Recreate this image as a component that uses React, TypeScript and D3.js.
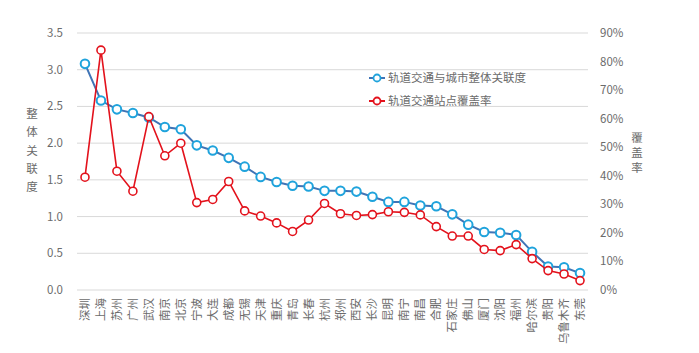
import React, { useEffect, useRef } from 'react';
import * as d3 from 'd3';

const cities = ['深圳', '上海', '苏州', '广州', '武汉', '南京', '北京', '宁波', '大连', '成都', '无锡', '天津', '重庆', '青岛', '长春', '杭州',
  '郑州', '西安', '长沙', '昆明', '南宁', '南昌', '合肥', '石家庄', '佛山', '厦门', '沈阳', '福州', '哈尔滨', '贵阳', '乌鲁木齐', '东莞'];
// 轨道交通与城市整体关联度 (left axis)
const relevance = [3.08, 2.58, 2.46, 2.41, 2.35, 2.22, 2.19, 1.97, 1.90, 1.80, 1.68, 1.54, 1.47, 1.42, 1.41, 1.35,
  1.35, 1.34, 1.27, 1.20, 1.20, 1.15, 1.14, 1.03, 0.89, 0.79, 0.78, 0.75, 0.52, 0.32, 0.31, 0.23];
// 轨道交通站点覆盖率 (right axis)
const coverage = [0.395, 0.84, 0.416, 0.346, 0.607, 0.47, 0.514, 0.306, 0.317, 0.38, 0.277, 0.259, 0.235, 0.205, 0.245, 0.303,
  0.267, 0.261, 0.264, 0.274, 0.272, 0.263, 0.222, 0.189, 0.189, 0.142, 0.138, 0.159, 0.11, 0.068, 0.056, 0.033];
const leftTicks = [0, 0.5, 1, 1.5, 2, 2.5, 3, 3.5];
const rightTicks = [0, 0.1, 0.2, 0.3, 0.4, 0.5, 0.6, 0.7, 0.8, 0.9];
const seriesNames = ['轨道交通与城市整体关联度', '轨道交通站点覆盖率'];

const FONT = '"Noto Sans CJK SC", "Noto Sans", sans-serif';
const TEXT = '#6b6b6b';

export default function App() {
  const ref = useRef<SVGSVGElement>(null);

  useEffect(() => {
    const width = 699, height = 353;
    const left = 77, right = 588, top = 33, bottom = 290;
    const svg = d3.select(ref.current);
    svg.selectAll('*').remove();

    const x = d3.scaleBand().domain(cities).range([left, right]);
    const cx = (c: string) => (x(c) as number) + x.bandwidth() / 2;
    const yL = d3.scaleLinear().domain([0, 3.5]).range([bottom, top]);
    const yR = d3.scaleLinear().domain([0, 0.9]).range([bottom, top]);

    // grid
    svg.append('g').selectAll('line').data(leftTicks).join('line')
      .attr('x1', left).attr('x2', right)
      .attr('y1', d => yL(d)).attr('y2', d => yL(d))
      .attr('stroke', '#d9d9d9').attr('stroke-width', 1);

    // left ticks
    svg.append('g').selectAll('text').data(leftTicks).join('text')
      .attr('x', 63).attr('y', d => yL(d)).attr('dy', '0.35em')
      .attr('text-anchor', 'end').attr('font-size', 11.5).attr('fill', TEXT)
      .attr('font-family', FONT)
      .text(d => d.toFixed(1));

    // right ticks
    svg.append('g').selectAll('text').data(rightTicks).join('text')
      .attr('x', 600).attr('y', d => yR(d)).attr('dy', '0.35em')
      .attr('font-size', 11.5).attr('fill', TEXT)
      .attr('font-family', FONT)
      .text(d => d3.format('.0%')(d));

    // axis titles, stacked characters
    const leftTitle = '整体关联度'.split('');
    svg.append('g').selectAll('text').data(leftTitle).join('text')
      .attr('x', 32).attr('y', (_, i) => 114 + i * 18.3).attr('dy', '0.35em')
      .attr('text-anchor', 'middle').attr('font-size', 11.5).attr('fill', TEXT)
      .attr('font-family', FONT).text(d => d);
    const rightTitle = '覆盖率'.split('');
    svg.append('g').selectAll('text').data(rightTitle).join('text')
      .attr('x', 637).attr('y', (_, i) => 138 + i * 15).attr('dy', '0.35em')
      .attr('text-anchor', 'middle').attr('font-size', 11.5).attr('fill', TEXT)
      .attr('font-family', FONT).text(d => d);

    // category labels, rotated
    svg.append('g').selectAll('text').data(cities).join('text')
      .attr('transform', d => `translate(${cx(d)},298) rotate(-90)`)
      .attr('dy', '0.35em')
      .attr('text-anchor', 'end').attr('font-size', 11.5).attr('fill', TEXT)
      .attr('font-family', FONT).text(d => d);

    // blue series
    const blueLine = d3.line<number>().x((_, i) => cx(cities[i])).y(d => yL(d));
    svg.append('path').attr('d', blueLine(relevance)).attr('fill', 'none')
      .attr('stroke', '#3f74b6').attr('stroke-width', 2);
    svg.append('g').selectAll('circle').data(relevance).join('circle')
      .attr('cx', (_, i) => cx(cities[i])).attr('cy', d => yL(d)).attr('r', 4.3)
      .attr('fill', '#fff').attr('stroke', '#1fa3dc').attr('stroke-width', 2);

    // red series
    const redLine = d3.line<number>().x((_, i) => cx(cities[i])).y(d => yR(d));
    svg.append('path').attr('d', redLine(coverage)).attr('fill', 'none')
      .attr('stroke', '#e3121c').attr('stroke-width', 1.6);
    svg.append('g').selectAll('circle').data(coverage).join('circle')
      .attr('cx', (_, i) => cx(cities[i])).attr('cy', d => yR(d)).attr('r', 4)
      .attr('fill', '#fff').attr('stroke', '#e3121c').attr('stroke-width', 1.6);

    // legend
    const legend = svg.append('g');
    const colors = [['#3f74b6', '#1fa3dc'], ['#e3121c', '#e3121c']];
    seriesNames.forEach((name, i) => {
      const ly = 78 + i * 23;
      legend.append('line').attr('x1', 369).attr('x2', 385).attr('y1', ly).attr('y2', ly)
        .attr('stroke', colors[i][0]).attr('stroke-width', 2);
      legend.append('circle').attr('cx', 377).attr('cy', ly).attr('r', 3.5)
        .attr('fill', '#fff').attr('stroke', colors[i][1]).attr('stroke-width', 1.8);
      legend.append('text').attr('x', 388).attr('y', ly).attr('dy', '0.35em')
        .attr('font-size', 11.5).attr('fill', TEXT).attr('font-family', FONT).text(name);
    });

    svg.attr('width', width).attr('height', height);
  }, []);

  return (
    <svg ref={ref} width={699} height={353}
      style={{ position: 'absolute', left: 0, top: 0, background: '#fff' }} />
  );
}
